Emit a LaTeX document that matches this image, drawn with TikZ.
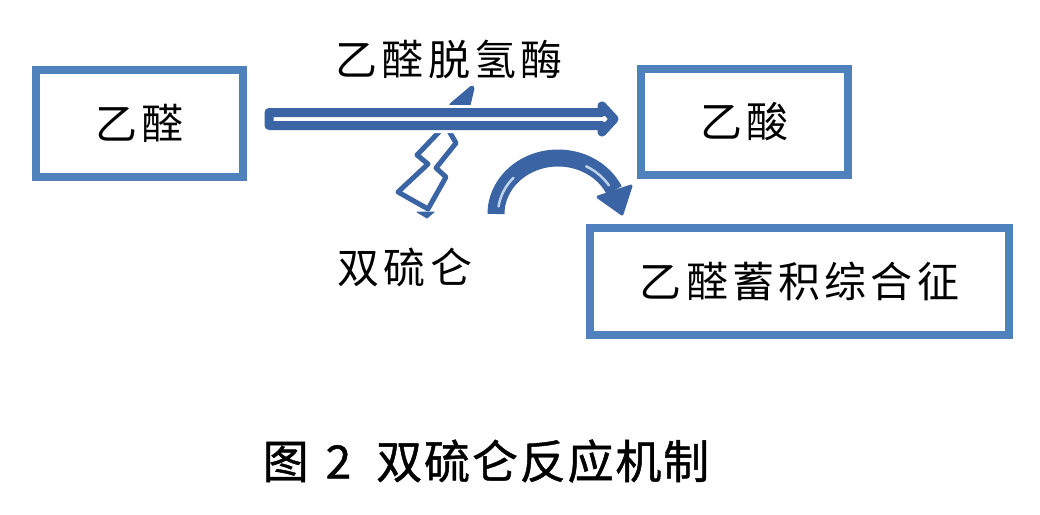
\documentclass[tikz,border=0pt]{standalone}
\usepackage{fontspec}
\usetikzlibrary{calc}
\newfontfamily\cjk[LetterSpace=10]{Noto Sans CJK SC}
\newfontfamily\cjkcap[LetterSpace=4,FakeBold=1]{Noto Sans CJK SC}
\definecolor{boxblue}{RGB}{79,129,189}
\definecolor{arrblue}{RGB}{58,100,163}
\definecolor{hilite}{RGB}{190,210,235}
\begin{document}
\begin{tikzpicture}[x=1pt,y=-1pt,
  box/.style={draw=boxblue, line width=8pt, inner sep=0pt, outer sep=0pt,
    font=\cjk\fontsize{42pt}{42pt}\selectfont, text=black},
  lbl/.style={inner sep=0pt, font=\cjk\fontsize{42pt}{42pt}\selectfont, text=black},
  captext/.style={inner sep=0pt, font=\cjkcap\fontsize{46pt}{46pt}\selectfont, text=black},
  blockarrow/.style={draw=arrblue, fill=white, line width=9pt, line join=round,
    preaction={draw=white, line width=15pt}},
  boltline/.style={draw=arrblue, fill=white, line width=5pt, line join=round},
  solidblue/.style={fill=arrblue, draw=arrblue, line width=3pt, line join=round}]
\fill[white] (0,0) rectangle (1040,514);
\useasboundingbox (0,0) rectangle (1040,514);

% boxes
\node[box, minimum width=207pt, minimum height=107pt] (b1) at (139.5,123.5) {\raisebox{-3pt}{乙醛}};
\node[box, minimum width=207pt, minimum height=106pt] (b2) at (744.5,122) {\raisebox{-4pt}{乙酸}};
\node[box, minimum width=419pt, minimum height=107pt] (b3) at (799.5,281.5) {\raisebox{-6pt}{乙醛蓄积综合征}};

% labels
\node[lbl] (enz) at (449,59) {乙醛脱氢酶};
\node[lbl] (dsf) at (405,267) {双硫仑};
\node[captext] (caption) at (486,461) {图\hspace{17pt}2\hspace{25pt}双硫仑反应机制};

% lightning bolt (behind the main arrow)
\draw[boltline] (472,88) -- (468,105) -- (449,131) -- (456,143) -- (436,168)
  -- (446,177) -- (428,209) -- (398,192) -- (428,164) -- (417,155) -- (440,131)
  -- (452,105) -- cycle;
\filldraw[solidblue] (452,104) -- (467,104) -- (472,88) -- cycle;
\filldraw[solidblue, line width=1pt] (417,212) -- (434,212) -- (427,218) -- cycle;

% main block arrow
\coordinate (hA) at (269,119);
\coordinate (hB) at (614,119);
\draw[blockarrow] ($(hA)+(0,-6.5)$) -- ($(hB)+(-12,-6.5)$) -- ($(hB)+(-12,-13)$)
  -- (hB) -- ($(hB)+(-12,13)$) -- ($(hB)+(-12,6.5)$) -- ($(hA)+(0,6.5)$) -- cycle;

% curved arrow
\coordinate (cE) at (614,191);
\coordinate (cT) at (622,214);
\draw[arrblue, line width=17pt] plot[domain=180:25, samples=60, smooth]
  ({558+62*cos(\x)},{214-56*sin(\x)});
\draw[hilite, line width=2.5pt, line cap=round] plot[domain=172:138, samples=30, smooth]
  ({558+60*cos(\x)},{214-54*sin(\x)});
\draw[hilite, line width=2.5pt, line cap=round] plot[domain=62:32, samples=30, smooth]
  ({558+60*cos(\x)},{214-54*sin(\x)});
\filldraw[solidblue] ($(cE)+(17,-5)$) -- (cT) -- ($(cE)+(-16,6)$) -- cycle;
\end{tikzpicture}
\end{document}
